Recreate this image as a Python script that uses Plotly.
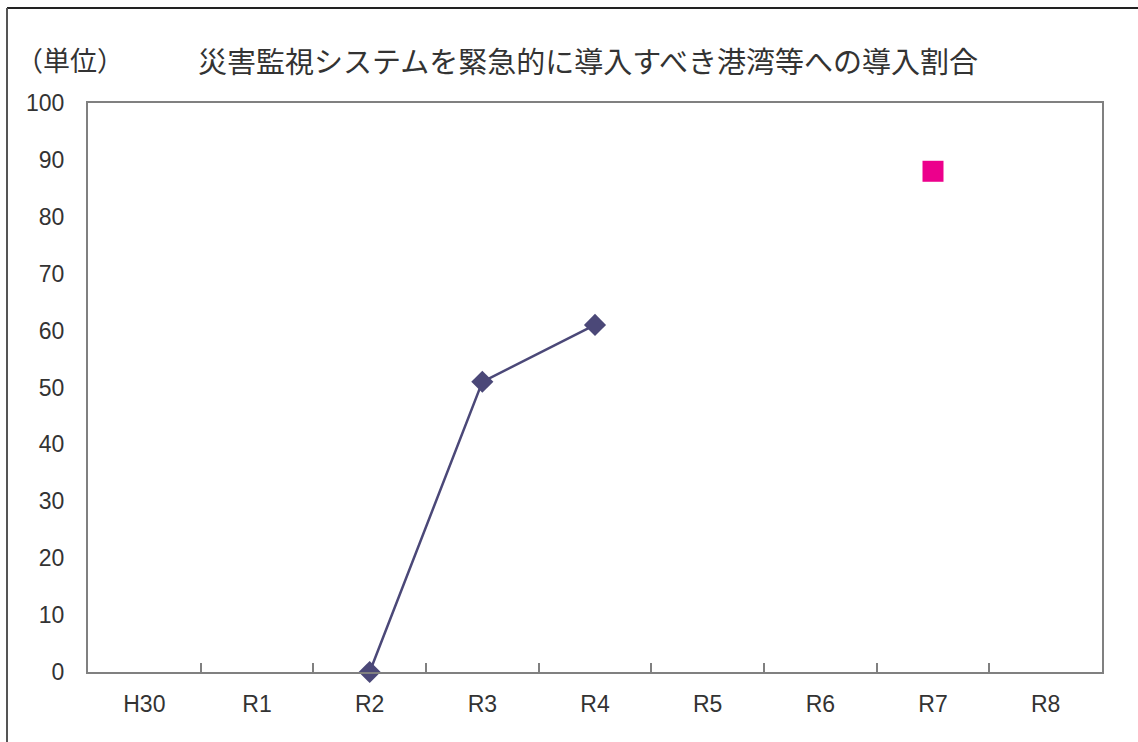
import plotly.graph_objects as go

categories = ["H30", "R1", "R2", "R3", "R4", "R5", "R6", "R7", "R8"]
actual = [None, None, 0, 51, 61, None, None, None, None]
target = [None, None, None, None, None, None, None, 88, None]
y_ticks = [0, 10, 20, 30, 40, 50, 60, 70, 80, 90, 100]

title_text = "災害監視システムを緊急的に導入すべき港湾等への導入割合"
unit_text = "（単位）"

W, H = 1138, 742
L, R, T, B = 88, 36, 103, 70
pw, ph = W - L - R, H - T - B

def px(x):
    return (x - L) / pw

def py(y):
    return (H - B - y) / ph

fig = go.Figure()
fig.add_trace(go.Scatter(
    x=categories, y=actual, mode="lines+markers",
    line=dict(color="#4B4878", width=2.5),
    marker=dict(symbol="diamond", size=17, color="#4B4878"),
    cliponaxis=False, showlegend=False, connectgaps=False,
))
fig.add_trace(go.Scatter(
    x=categories, y=target, mode="markers",
    marker=dict(symbol="square", size=21, color="#EC008C"),
    cliponaxis=False, showlegend=False,
))

num_font = dict(family="Liberation Sans, Arial, sans-serif", size=23, color="#333333")
jp_font = "Noto Sans CJK JP, sans-serif"

fig.update_layout(
    width=W, height=H,
    margin=dict(l=L, r=R, t=T, b=B),
    paper_bgcolor="white", plot_bgcolor="white",
    xaxis=dict(
        type="category", categoryorder="array", categoryarray=categories,
        range=[-0.5, len(categories) - 0.5],
        showgrid=False, zeroline=False,
        showline=True, linecolor="#808080", linewidth=2, mirror=True,
        ticks="inside", tickson="boundaries", ticklen=9, tickwidth=1.5, tickcolor="#808080",
        tickfont=num_font, ticklabelstandoff=10,
    ),
    yaxis=dict(
        range=[0, 100], tickvals=y_ticks,
        showgrid=False, zeroline=False,
        showline=True, linecolor="#808080", linewidth=2, mirror=True,
        ticks="", tickfont=num_font, ticklabelstandoff=17,
    ),
    annotations=[
        dict(text=title_text, xref="paper", yref="paper", x=px(196), y=py(60),
             xanchor="left", yanchor="middle", showarrow=False,
             font=dict(family=jp_font, size=29, color="#333333")),
        dict(text=unit_text, xref="paper", yref="paper", x=px(14), y=py(60),
             xanchor="left", yanchor="middle", showarrow=False,
             font=dict(family=jp_font, size=27, color="#333333")),
    ],
    shapes=[
        dict(type="line", xref="paper", yref="paper", x0=px(7), x1=px(1140), y0=py(8), y1=py(8),
             line=dict(color="#222222", width=2)),
        dict(type="line", xref="paper", yref="paper", x0=px(7), x1=px(7), y0=py(8), y1=py(745),
             line=dict(color="#555555", width=2)),
    ],
)

fig.write_html("out.html", config={"displayModeBar": False},
               post_script="document.body.style.margin='0';document.body.style.overflow='hidden';")
